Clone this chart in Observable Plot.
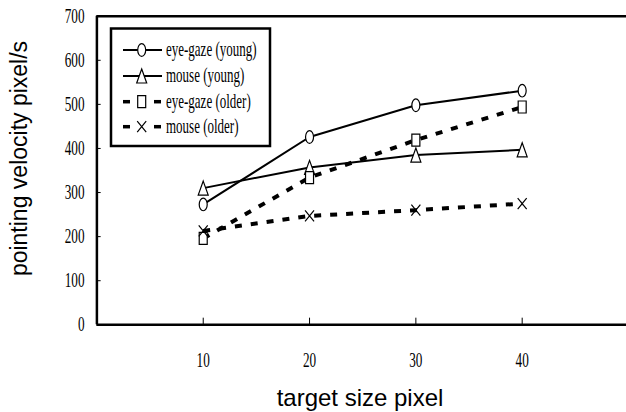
<!DOCTYPE html>
<html>
<head>
<meta charset="utf-8">
<script src="https://cdn.jsdelivr.net/npm/d3@7"></script>
<script src="https://cdn.jsdelivr.net/npm/@observablehq/plot@0.6"></script>
<style>
  html, body { margin: 0; padding: 0; background: #fff; }
</style>
</head>
<body>
<div id="chart"></div>
<script>
// ---- data ----
const targetSizes = [10, 20, 30, 40];
const eyeGazeYoung = [273, 426, 498, 531];
const mouseYoung = [310, 357, 385, 397];
const eyeGazeOlder = [196, 334, 419, 494];
const mouseOlder = [213, 247, 260, 275];
const seriesNames = ["eye-gaze (young)", "mouse (young)", "eye-gaze (older)", "mouse (older)"];
const yTicks = [0, 100, 200, 300, 400, 500, 600, 700];
const xTitle = "target size pixel";
const yTitle = "pointing velocity pixel/s";

// ---- marker symbols (tall, narrow as in the reference) ----
const K = 0.5523;
const ellipseSym = {draw(c) {
  const rx = 4, ry = 6.3;
  c.moveTo(rx, 0);
  c.bezierCurveTo(rx, ry * K, rx * K, ry, 0, ry);
  c.bezierCurveTo(-rx * K, ry, -rx, ry * K, -rx, 0);
  c.bezierCurveTo(-rx, -ry * K, -rx * K, -ry, 0, -ry);
  c.bezierCurveTo(rx * K, -ry, rx, -ry * K, rx, 0);
  c.closePath();
}};
const triSym = {draw(c) {
  c.moveTo(0, -7); c.lineTo(5, 7); c.lineTo(-5, 7); c.closePath();
}};
const rectSym = {draw(c) { c.rect(-4, -6, 8, 12); }};
const xSym = {draw(c) {
  c.moveTo(-4.5, -5.5); c.lineTo(4.5, 5.5);
  c.moveTo(4.5, -5.5); c.lineTo(-4.5, 5.5);
}};

const mk = (vals) => targetSizes.map((x, i) => ({x, y: vals[i]}));
const series = [
  {name: seriesNames[0], data: mk(eyeGazeYoung), sym: ellipseSym, dashed: false, fill: "white"},
  {name: seriesNames[1], data: mk(mouseYoung), sym: triSym, dashed: false, fill: "white"},
  {name: seriesNames[2], data: mk(eyeGazeOlder), sym: rectSym, dashed: true, fill: "white"},
  {name: seriesNames[3], data: mk(mouseOlder), sym: xSym, dashed: true, fill: "none"}
];

const marks = [
  Plot.ruleX(targetSizes, {x: d => d, y1: 0, y2: 15, stroke: "black", strokeWidth: 1}),
  Plot.ruleY(yTicks, {y: d => d, x1: 0, x2: 0.4, stroke: "black", strokeWidth: 1}),
  Plot.ruleX([0], {y1: 0, y2: 700, stroke: "black", strokeWidth: 2.5}),
  Plot.ruleY([0, 700], {x1: 0, x2: 50, stroke: "black", strokeWidth: 2.5}),
  Plot.axisX({ticks: targetSizes, tickSize: 0, tickPadding: 28, fontSize: 20, fontFamily: "Liberation Serif", label: null}),
  Plot.axisY({ticks: yTicks, tickSize: 0, tickPadding: 12, fontSize: 20, fontFamily: "Liberation Serif", label: null})
];
for (const s of series) {
  marks.push(Plot.line(s.data, {
    x: "x", y: "y", stroke: "black",
    strokeWidth: s.dashed ? 4 : 2,
    strokeDasharray: s.dashed ? "7,9" : null,
    strokeLinecap: s.dashed ? "butt" : "round"
  }));
}
for (const s of series) {
  marks.push(Plot.dot(s.data, {x: "x", y: "y", r: 5, symbol: s.sym, fill: s.fill, stroke: "black", strokeWidth: 1.2}));
}

const svg = Plot.plot({
  width: 626,
  height: 412,
  marginLeft: 96,
  marginRight: 0,
  marginTop: 16,
  marginBottom: 88,
  style: {background: "white", color: "black", overflow: "visible"},
  x: {domain: [0, 50], range: [96.4, 628]},
  y: {domain: [0, 700], range: [324.3, 15.7]},
  marks
});
document.getElementById("chart").appendChild(svg);

const sel = d3.select(svg);
// horizontally condensed serif text (keeps any existing transform)
function condense(text, k) {
  text.each(function() {
    const t = d3.select(this);
    const tr = t.attr("transform") || "";
    const x = +t.attr("x") || 0;
    t.attr("transform", `${tr} translate(${x},0) scale(${k},1) translate(${-x},0)`.trim());
  });
}
condense(sel.selectAll('g[aria-label="x-axis tick label"] text, g[aria-label="y-axis tick label"] text'), 0.66);

// axis titles
sel.append("text")
  .attr("x", 360).attr("y", 406)
  .attr("text-anchor", "middle")
  .style("font-family", "'Liberation Sans', Arial, sans-serif")
  .style("font-size", "24px")
  .attr("fill", "black")
  .text(xTitle);
sel.append("text")
  .attr("transform", "translate(27,158.5) rotate(-90)")
  .attr("text-anchor", "middle")
  .style("font-family", "'Liberation Sans', Arial, sans-serif")
  .style("font-size", "23px")
  .attr("fill", "black")
  .text(yTitle);

// legend
const lg = sel.append("g").attr("aria-label", "legend");
lg.append("rect").attr("x", 111).attr("y", 28.5).attr("width", 159).attr("height", 117.5)
  .attr("fill", "white").attr("stroke", "black").attr("stroke-width", 2.5);
const rowY = [50, 76, 101.7, 126.7];
series.forEach((s, i) => {
  const y = rowY[i];
  if (s.dashed) {
    lg.append("line").attr("x1", 123).attr("x2", 130).attr("y1", y).attr("y2", y)
      .attr("stroke", "black").attr("stroke-width", 3.5);
    lg.append("line").attr("x1", 154).attr("x2", 161).attr("y1", y).attr("y2", y)
      .attr("stroke", "black").attr("stroke-width", 3.5);
  } else {
    lg.append("line").attr("x1", 123).attr("x2", 162).attr("y1", y).attr("y2", y)
      .attr("stroke", "black").attr("stroke-width", 2);
  }
  const p = d3.path();
  s.sym.draw(p);
  lg.append("path").attr("d", p.toString())
    .attr("transform", `translate(141.7,${y})`)
    .attr("fill", s.fill).attr("stroke", "black").attr("stroke-width", 1.2);
  const t = lg.append("text").attr("x", 166).attr("y", y + 6)
    .attr("text-anchor", "start")
    .style("font-family", "'Liberation Serif', serif")
    .style("font-size", "20px")
    .attr("fill", "black")
    .text(s.name);
  condense(t, 0.65);
});
</script>
</body>
</html>
